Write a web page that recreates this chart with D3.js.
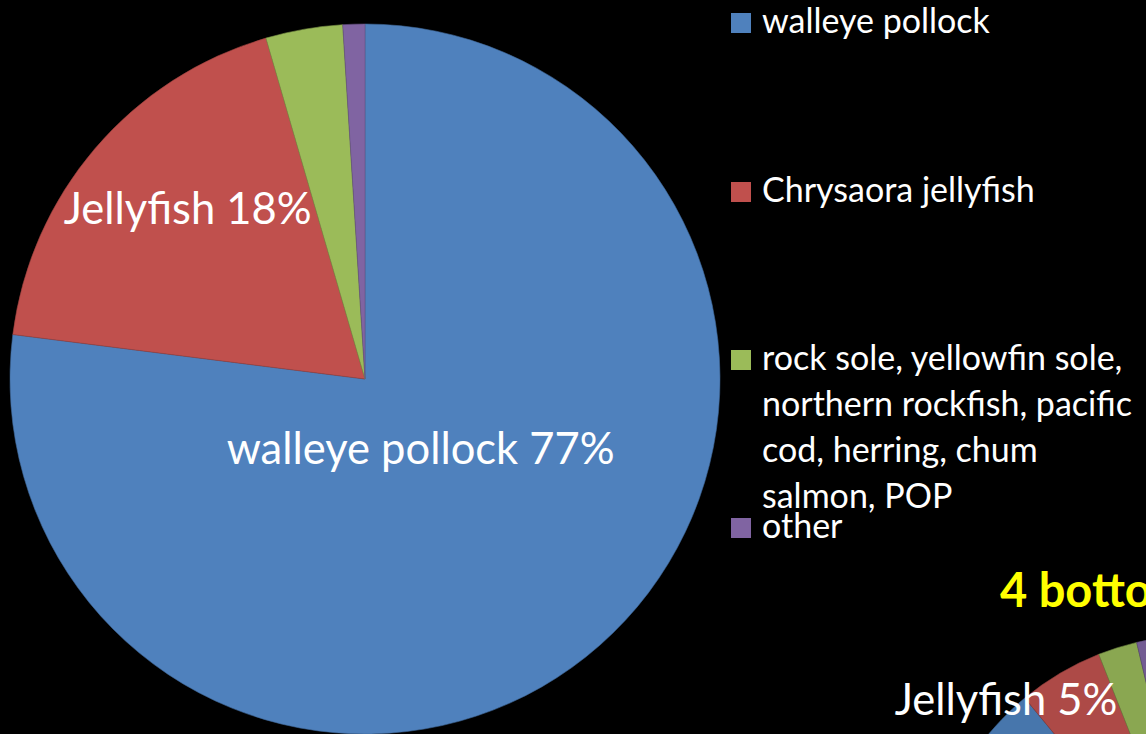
<!DOCTYPE html>
<html>
<head>
<meta charset="utf-8">
<script src="https://cdn.jsdelivr.net/npm/d3@7"></script>
<style>
  html, body { margin: 0; padding: 0; background: #000; overflow: hidden; }
  svg { display: block; }
</style>
</head>
<body>
<script>
// main pie: diet composition
const categories = ["walleye pollock", "Chrysaora jellyfish", "rock sole, yellowfin sole, northern rockfish, pacific cod, herring, chum salmon, POP", "other"];
const mainValues = [77, 18.5, 3.5, 1];
const mainLabels = ["walleye pollock 77%", "Jellyfish 18%", "", ""];
const legendLines = [
    ["walleye pollock"],
    ["Chrysaora jellyfish"],
    ["rock sole, yellowfin sole,", "northern rockfish, pacific", "cod, herring, chum", "salmon, POP"],
    ["other"]
];
// second pie (mostly off screen)
const secondTitle = "4 bottom trawls";
const secondValues = [89, 5, 2.3, 3.7];
const secondLabels = ["", "Jellyfish 5%", "", ""];

const colors = ["#4F81BD", "#C0504D", "#9BBB59", "#8064A2"];
const darkColors = ["#4776AC", "#AD4A47", "#8AA751", "#735C93"];

const width = 1146, height = 734;
const font = "Lato, 'Open Sans', sans-serif";

let svg = d3.select("body").append("svg")
    .attr("width", width)
    .attr("height", height)
    .style("background", "#000");

const pie = d3.pie().sort(null).value(d => d);

// ---- main pie
const r = 355;
let g = svg.append("g").attr("transform", `translate(365,379)`);
const arc = d3.arc().innerRadius(0).outerRadius(r);
const arcs = pie(mainValues);
g.selectAll("path").data(arcs).join("path")
    .attr("d", arc)
    .attr("fill", (d, i) => colors[i])
    .attr("stroke", (d, i) => d3.color(colors[i]).darker(0.6))
    .attr("stroke-width", 0.6);

// label radius, as fraction of r (walleye near center, jellyfish outward)
const labelR = [0.25, 0.72, 0.8, 0.8];
g.selectAll("text.lbl").data(arcs).join("text")
    .attr("class", "lbl")
    .attr("transform", (d, i) => {
        const a = d3.arc().innerRadius(r * labelR[i]).outerRadius(r * labelR[i]);
        const [x, y] = a.centroid(d);
        return i == 1 ? `translate(${x + 17},${y - 2})` : `translate(${x - 3},${y + 5})`;
    })
    .attr("text-anchor", "middle")
    .attr("dy", "0.3em")
    .attr("fill", "#fff")
    .style("font-family", font)
    .style("font-size", "43.5px")
    .text((d, i) => mainLabels[i]);

// ---- legend
const legendY = [13, 182, 350, 518];
let legend = svg.append("g");
let items = legend.selectAll("g").data(categories).join("g")
    .attr("transform", (d, i) => `translate(731,${legendY[i]})`);
items.append("rect")
    .attr("width", 20).attr("height", 20)
    .attr("fill", (d, i) => colors[i]);
items.append("text")
    .attr("fill", "#fff")
    .style("font-family", font)
    .style("font-size", "34px")
    .each(function (d, i) {
        d3.select(this).selectAll("tspan").data(legendLines[i]).join("tspan")
            .attr("x", 31)
            .attr("y", (t, j) => 20 + j * 46)
            .text(t => t);
    });

// ---- second pie, cut off at the bottom right
const r2 = 275;
let g2 = svg.append("g").attr("transform", `translate(1200,910)`);
const arc2 = d3.arc().innerRadius(0).outerRadius(r2);
const arcs2 = pie(secondValues);
g2.selectAll("path").data(arcs2).join("path")
    .attr("d", arc2)
    .attr("fill", (d, i) => darkColors[i])
    .attr("stroke", (d, i) => d3.color(darkColors[i]).darker(0.6))
    .attr("stroke-width", 0.6);
g2.selectAll("text").data(arcs2).join("text")
    .attr("x", -194).attr("y", -195)
    .attr("fill", "#fff")
    .attr("text-anchor", "middle")
    .style("font-family", font)
    .style("font-size", "43.5px")
    .text((d, i) => secondLabels[i]);

svg.append("text")
    .attr("x", 1000).attr("y", 607)
    .attr("fill", "#FFFF00")
    .style("font-family", font)
    .style("font-weight", "bold")
    .style("font-size", "47px")
    .text(secondTitle);
</script>
</body>
</html>
